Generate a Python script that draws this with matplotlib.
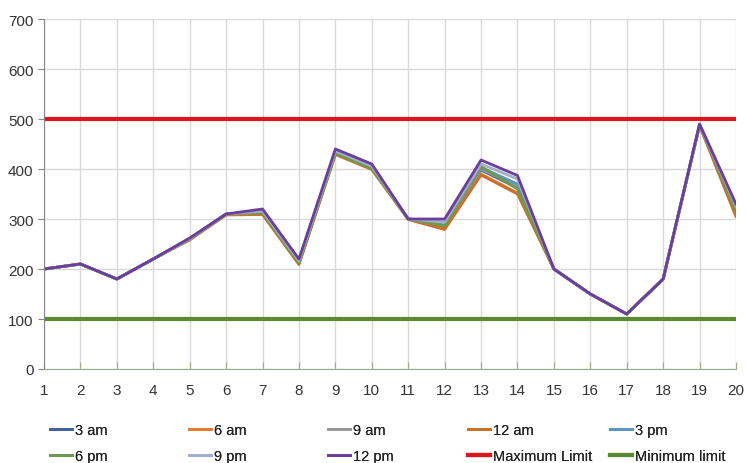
import matplotlib
matplotlib.use("Agg")
import matplotlib.pyplot as plt

plt.rcParams['font.family'] = ['Liberation Sans', 'DejaVu Sans']

days = list(range(1, 21))

# readings per time of day
am3 = [200, 210, 180, 220, 260, 310, 312, 212, 432, 402, 300, 284, 398, 362, 200, 150, 110, 180, 488, 312]
am6 = [200, 210, 180, 220, 260, 310, 310, 210, 430, 400, 300, 280, 390, 352, 200, 150, 110, 180, 488, 306]
am9 = [200, 210, 180, 220, 260, 310, 313, 213, 433, 403, 300, 286, 400, 365, 200, 150, 110, 180, 488, 315]
am12 = [200, 210, 180, 220, 258, 308, 309, 209, 429, 399, 299, 279, 388, 350, 200, 150, 110, 180, 487, 305]
pm3 = [200, 210, 180, 220, 260, 310, 314, 214, 434, 404, 300, 288, 403, 370, 200, 150, 110, 180, 488, 320]
pm6 = [200, 210, 180, 220, 260, 310, 312, 212, 431, 401, 300, 286, 405, 360, 200, 150, 110, 180, 488, 316]
pm9 = [200, 210, 180, 220, 261, 310, 316, 216, 436, 406, 300, 294, 410, 380, 200, 150, 110, 180, 489, 325]
pm12 = [200, 210, 180, 220, 262, 310, 320, 220, 440, 410, 300, 300, 418, 387, 200, 150, 110, 180, 490, 330]
max_limit = [500] * 20
min_limit = [100] * 20

names = ["3 am", "6 am", "9 am", "12 am", "3 pm", "6 pm", "9 pm", "12 pm"]
series = [am3, am6, am9, am12, pm3, pm6, pm9, pm12]
colors = ["#3F63A0", "#E8792F", "#9A9A9A", "#C8702E", "#5E92C2", "#6E9A4E", "#A3AECB", "#6A3E9A"]

fig = plt.figure(figsize=(7.46, 4.64), dpi=100)
ax = fig.add_axes([44/746, 94/464, 692/746, 350/464])

lines = {}
for name, vals, c in zip(names, series, colors):
    lines[name], = ax.plot(days, vals, color=c, lw=2.0)
lines["Maximum Limit"], = ax.plot(days, max_limit, color="#E0141E", lw=3.0)
lines["Minimum limit"], = ax.plot(days, min_limit, color="#5A8A34", lw=3.0)

ax.set_xlim(1, 20)
ax.set_ylim(0, 700)
ax.set_xticks(days)
ax.set_yticks(range(0, 701, 100))
ax.grid(True, color="#D9D9D9", lw=1)
ax.set_axisbelow(True)
for s in ["top", "right"]:
    ax.spines[s].set_visible(False)
ax.spines["left"].set_color("#868686")
ax.spines["bottom"].set_color("#9AAA88")
ax.tick_params(axis="y", length=4, color="#868686", labelsize=11, labelcolor="#333333")
ax.tick_params(axis="x", length=5, color="#9AAA88", direction="in", pad=10,
               labelsize=11, labelcolor="#333333")

# five legend columns of two rows each
columns = [["3 am", "6 pm"], ["6 am", "9 pm"], ["9 am", "12 pm"],
           ["12 am", "Maximum Limit"], ["3 pm", "Minimum limit"]]
col_x = [50, 189, 328, 468, 610]
for keys, x in zip(columns, col_x):
    leg = fig.legend([lines[k] for k in keys], keys, frameon=False,
                     loc="upper left", bbox_to_anchor=(x/746, (464-424)/464),
                     borderpad=0, borderaxespad=0, handlelength=1.5,
                     handletextpad=0.2, fontsize=10.5, labelspacing=0.85)
    for t in leg.get_texts():
        t.set_color("#222222")
    fig.add_artist(leg)

fig.savefig("out.png", dpi=100)
